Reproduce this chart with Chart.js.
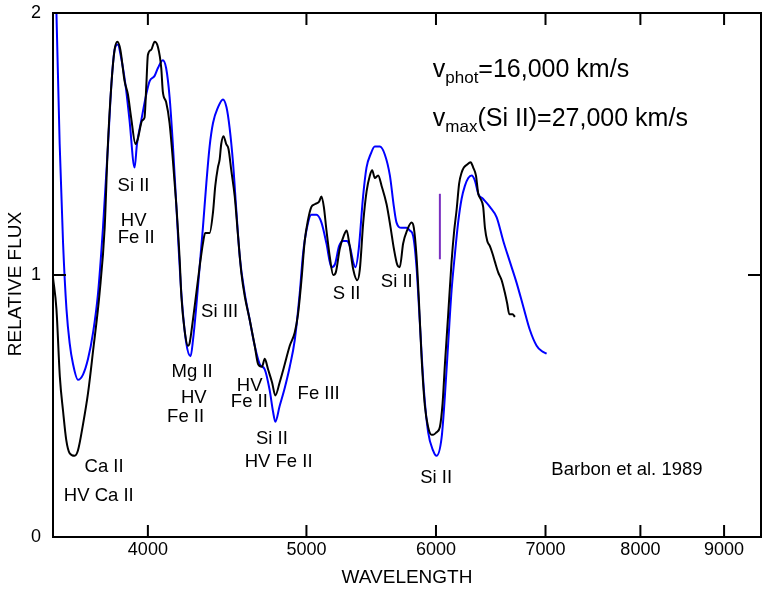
<!DOCTYPE html>
<html>
<head>
<meta charset="utf-8">
<script src="https://cdn.jsdelivr.net/npm/chart.js@4/dist/chart.umd.min.js"></script>
<style>
  html, body { margin: 0; background: #fff; }
  canvas { display: block; }
</style>
</head>
<body>
<canvas id="spec" width="763" height="589"></canvas>
<script>
// observed spectrum: [wavelength (A), relative flux]
const observed = [
  [3500,0.99],[3517,0.87],[3534,0.61],[3550,0.48],[3566,0.37],[3583,0.32],[3608,0.31],[3625,0.33],
  [3651,0.43],[3677,0.55],[3703,0.71],[3737,0.93],[3764,1.18],[3780,1.48],[3800,1.73],[3817,1.86],
  [3832,1.89],[3848,1.86],[3871,1.74],[3889,1.69],[3907,1.60],[3931,1.50],[3944,1.52],[3968,1.59],
  [3981,1.60],[3991,1.72],[4000,1.84],[4019,1.86],[4038,1.89],[4057,1.87],[4076,1.79],[4085,1.70],
  [4104,1.66],[4124,1.58],[4143,1.44],[4163,1.27],[4183,1.06],[4193,0.92],[4212,0.79],[4232,0.73],
  [4242,0.74],[4262,0.83],[4282,0.93],[4302,1.03],[4322,1.12],[4336,1.16],[4363,1.16],[4384,1.24],
  [4398,1.34],[4414,1.41],[4425,1.44],[4435,1.50],[4449,1.53],[4466,1.50],[4481,1.48],[4498,1.40],
  [4520,1.30],[4541,1.15],[4562,1.01],[4584,0.92],[4616,0.83],[4649,0.73],[4671,0.66],[4697,0.65],
  [4715,0.68],[4737,0.64],[4764,0.59],[4786,0.54],[4815,0.59],[4850,0.66],[4884,0.73],[4918,0.78],
  [4941,0.85],[4965,0.98],[4988,1.13],[5011,1.21],[5035,1.26],[5059,1.27],[5090,1.28],[5107,1.30],
  [5124,1.26],[5143,1.17],[5167,1.07],[5192,1.00],[5211,1.01],[5240,1.10],[5270,1.15],[5291,1.17],
  [5311,1.12],[5341,1.02],[5371,0.98],[5390,1.02],[5416,1.20],[5442,1.32],[5467,1.38],[5485,1.40],
  [5505,1.37],[5531,1.38],[5558,1.34],[5597,1.27],[5629,1.18],[5655,1.10],[5681,1.04],[5702,1.03],
  [5729,1.12],[5761,1.17],[5797,1.20],[5816,1.18],[5838,1.07],[5860,0.88],[5879,0.69],[5907,0.50],
  [5934,0.42],[5963,0.39],[5976,0.39],[6005,0.40],[6033,0.42],[6056,0.51],[6076,0.66],[6104,0.85],
  [6133,1.05],[6156,1.17],[6177,1.25],[6199,1.35],[6220,1.39],[6240,1.41],[6264,1.42],[6300,1.43],
  [6323,1.41],[6347,1.38],[6368,1.31],[6389,1.29],[6412,1.26],[6428,1.18],[6449,1.13],[6473,1.11],
  [6498,1.08],[6519,1.05],[6549,1.01],[6581,0.98],[6612,0.93],[6633,0.89],[6652,0.85],[6683,0.85],
  [6705,0.84]
];

// synthetic spectrum
const synthetic = [
  [3500,2.45],[3517,2.00],[3533,1.50],[3550,1.12],[3567,0.87],[3583,0.74],[3600,0.66],[3625,0.60],
  [3651,0.62],[3677,0.68],[3703,0.78],[3729,0.93],[3755,1.18],[3782,1.50],[3800,1.73],[3817,1.86],
  [3834,1.88],[3852,1.83],[3877,1.72],[3898,1.59],[3926,1.41],[3939,1.50],[3963,1.59],[3991,1.69],
  [4010,1.74],[4038,1.76],[4057,1.79],[4085,1.82],[4104,1.79],[4124,1.68],[4143,1.50],[4163,1.27],
  [4193,0.93],[4222,0.74],[4248,0.69],[4262,0.75],[4282,0.88],[4302,1.03],[4322,1.18],[4343,1.35],
  [4363,1.49],[4384,1.58],[4415,1.64],[4446,1.67],[4468,1.64],[4488,1.56],[4509,1.43],[4531,1.24],
  [4552,1.07],[4584,0.93],[4616,0.83],[4649,0.73],[4682,0.66],[4715,0.64],[4748,0.56],[4770,0.48],
  [4786,0.44],[4815,0.50],[4850,0.57],[4884,0.65],[4918,0.75],[4953,0.93],[4976,1.08],[5000,1.17],
  [5035,1.23],[5071,1.23],[5107,1.20],[5143,1.12],[5179,1.03],[5204,1.04],[5235,1.11],[5265,1.13],
  [5291,1.13],[5315,1.11],[5340,1.05],[5357,1.03],[5382,1.10],[5415,1.30],[5441,1.41],[5472,1.46],
  [5505,1.49],[5544,1.49],[5583,1.46],[5623,1.38],[5655,1.26],[5676,1.20],[5716,1.18],[5756,1.18],
  [5783,1.17],[5810,1.15],[5838,1.03],[5865,0.82],[5899,0.56],[5934,0.40],[5976,0.33],[6005,0.31],
  [6048,0.38],[6076,0.54],[6104,0.74],[6133,0.94],[6162,1.08],[6190,1.20],[6220,1.29],[6249,1.34],
  [6279,1.37],[6309,1.38],[6338,1.36],[6368,1.31],[6412,1.29],[6473,1.26],[6535,1.22],[6596,1.13],
  [6658,1.05],[6721,0.97],[6784,0.88],[6848,0.79],[6913,0.73],[6962,0.71],[7011,0.70]
];

// vmax(Si II) marker
const vmaxMarker = [[6033,1.06],[6033,1.31]];

const xTicks = [4000, 5000, 6000, 7000, 8000, 9000];
const yTicks = [0, 1, 2];

// line identifications: text, wavelength, flux (text centre)
const lineIds = [
  ['Si II', 3920, 1.34], ['HV', 3921, 1.205], ['Fe II', 3935, 1.14],
  ['Si III', 4425, 0.86],
  ['Mg II', 4257, 0.63], ['HV', 4267, 0.53], ['Fe II', 4218, 0.46],
  ['HV', 4616, 0.576], ['Fe II', 4614, 0.515],
  ['Fe III', 5087, 0.548],
  ['Si II', 4763, 0.374], ['HV Fe II', 4808, 0.287],
  ['Ca II', 3761, 0.267], ['HV Ca II', 3733, 0.158],
  ['S II', 5291, 0.929], ['Si II', 5678, 0.973], ['Si II', 6002, 0.225],
  ['Barbon et al. 1989', 7850, 0.256]
];

// velocity notes: main, subscript, rest, wavelength, flux (left baseline)
const velocityNotes = [
  ['v', 'phot', '=16,000 km/s', 5973, 1.757],
  ['v', 'max', '(Si II)=27,000 km/s', 5973, 1.569]
];

const FONT = '"Liberation Sans", Arial, sans-serif';
const toPts = arr => arr.map(([x, y]) => ({ x, y }));
const noPad = s => { s.paddingTop = 0; s.paddingBottom = 0; s.paddingLeft = 0; s.paddingRight = 0; };

const decorations = {
  id: 'decorations',
  afterDatasetsDraw(chart) {
    const { ctx, chartArea: a, scales: { x, y } } = chart;
    ctx.save();
    ctx.strokeStyle = '#000';
    ctx.lineWidth = 2;
    ctx.strokeRect(a.left, a.top, a.right - a.left, a.bottom - a.top);

    // inward tick marks on all four sides
    ctx.beginPath();
    xTicks.forEach(v => {
      const px = x.getPixelForValue(v);
      ctx.moveTo(px, a.bottom); ctx.lineTo(px, a.bottom - 12);
      ctx.moveTo(px, a.top); ctx.lineTo(px, a.top + 12);
    });
    yTicks.forEach(v => {
      const py = y.getPixelForValue(v);
      ctx.moveTo(a.left, py); ctx.lineTo(a.left + 13, py);
      ctx.moveTo(a.right, py); ctx.lineTo(a.right - 13, py);
    });
    ctx.stroke();

    ctx.fillStyle = '#000';

    // y axis title, sitting a little below the axis middle
    ctx.save();
    ctx.font = `19px ${FONT}`;
    ctx.textAlign = 'center';
    ctx.textBaseline = 'middle';
    ctx.translate(16, (a.top + a.bottom) / 2 + 9);
    ctx.rotate(-Math.PI / 2);
    ctx.fillText('RELATIVE FLUX', 0, 0);
    ctx.restore();

    ctx.font = `18.5px ${FONT}`;
    ctx.textAlign = 'center';
    ctx.textBaseline = 'middle';
    lineIds.forEach(([t, wl, f]) => ctx.fillText(t, x.getPixelForValue(wl), y.getPixelForValue(f)));

    ctx.textAlign = 'left';
    ctx.textBaseline = 'alphabetic';
    velocityNotes.forEach(([main, sub, rest, wl, f]) => {
      let px = x.getPixelForValue(wl);
      const py = y.getPixelForValue(f);
      ctx.font = `25px ${FONT}`;
      ctx.fillText(main, px, py);
      px += ctx.measureText(main).width;
      ctx.font = `17px ${FONT}`;
      ctx.fillText(sub, px, py + 6);
      px += ctx.measureText(sub).width;
      ctx.font = `25px ${FONT}`;
      ctx.fillText(rest, px, py);
    });
    ctx.restore();
  }
};

new Chart(document.getElementById('spec'), {
  type: 'line',
  data: {
    datasets: [
      { label: 'observed', data: toPts(observed), borderColor: '#000', borderWidth: 2, order: 1 },
      { label: 'synthetic', data: toPts(synthetic), borderColor: '#0000ff', borderWidth: 2, order: 2 },
      { label: 'vmax', data: toPts(vmaxMarker), borderColor: '#7a2fc0', borderWidth: 2, order: 0 }
    ]
  },
  options: {
    responsive: false,
    animation: false,
    parsing: false,
    layout: { padding: { top: 13, right: 2 } },
    elements: { point: { radius: 0 }, line: { cubicInterpolationMode: 'monotone', fill: false } },
    plugins: { legend: { display: false }, tooltip: { enabled: false } },
    scales: {
      x: {
        type: 'logarithmic',
        min: 3500,
        max: 9480,
        grid: { display: false, drawTicks: false },
        border: { display: false },
        afterBuildTicks: s => { s.ticks = xTicks.map(v => ({ value: v })); },
        afterFit: s => { s.height = 52; noPad(s); },
        ticks: { color: '#000', font: { family: FONT, size: 18 }, padding: 2, maxRotation: 0, callback: v => String(v) },
        title: { display: true, text: 'WAVELENGTH', color: '#000', font: { family: FONT, size: 19 }, padding: 0 }
      },
      y: {
        min: 0,
        max: 2,
        grid: { display: false, drawTicks: false },
        border: { display: false },
        afterBuildTicks: s => { s.ticks = yTicks.map(v => ({ value: v })); },
        afterFit: s => { s.width = 53; noPad(s); },
        ticks: { color: '#000', font: { family: FONT, size: 18 }, padding: 12 }
      }
    }
  },
  plugins: [decorations]
});
</script>
</body>
</html>
